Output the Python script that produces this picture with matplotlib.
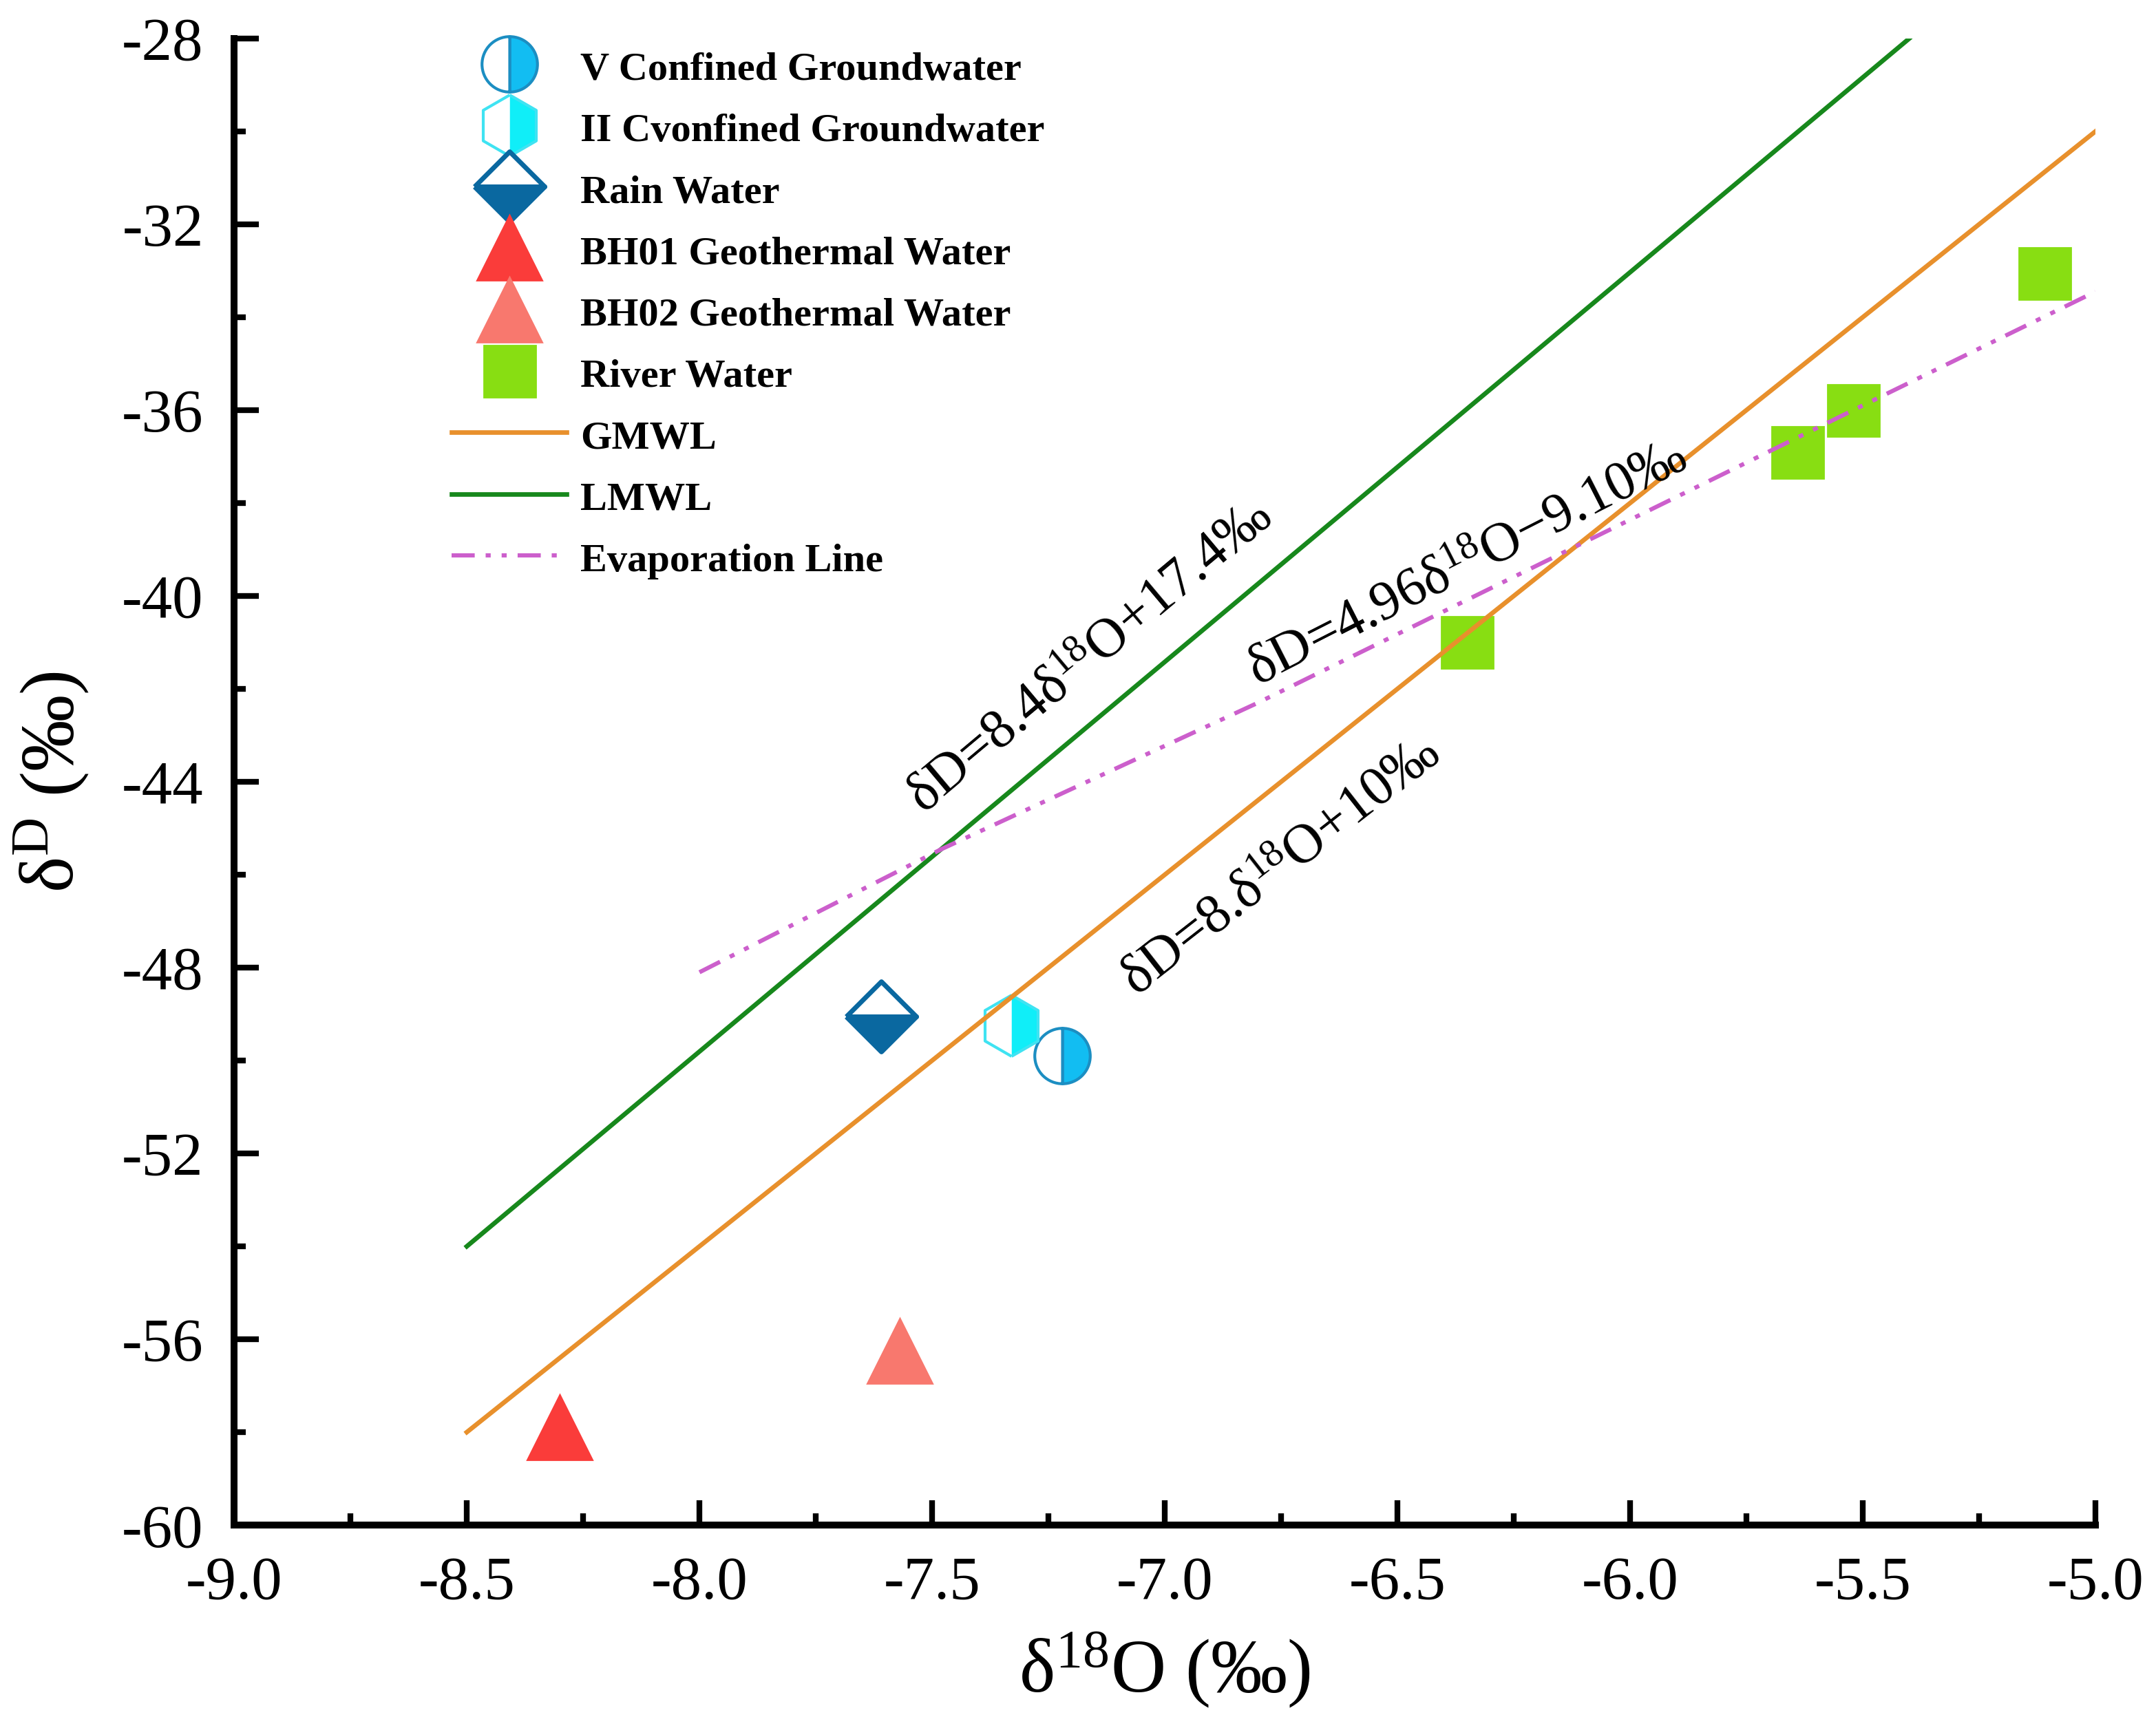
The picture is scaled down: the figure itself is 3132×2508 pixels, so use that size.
import matplotlib
matplotlib.use('Agg')
import matplotlib.pyplot as plt
from matplotlib.markers import MarkerStyle
from matplotlib.ticker import MultipleLocator, FormatStrFormatter

# Datos

v_conf_x = [-7.22]
v_conf_y = [-49.9]

ii_conf_x = [-7.33]
ii_conf_y = [-49.25]

rain_x = [-7.61]
rain_y = [-49.05]

bh01_x = [-8.30]
bh01_y = [-57.9]

bh02_x = [-7.57]
bh02_y = [-56.25]

river_x = [-6.35, -5.64, -5.52, -5.11]
river_y = [-41.0, -36.9, -36.0, -33.05]

gmwl_x = [-8.5, -5.0]
gmwl_y = [-58.0, -30.0]

lmwl_x = [-8.5, -5.40]
lmwl_y = [-54.0, -28.0]

evap_x = [-8.0, -7.48, -6.8, -6.11, -5.5, -5.0]
evap_y = [-48.1, -45.45, -42.3, -38.9, -35.9, -33.45]

labels = ['V Confined Groundwater', 'II Cvonfined Groundwater', 'Rain Water',
          'BH01 Geothermal Water', 'BH02 Geothermal Water', 'River Water',
          'GMWL', 'LMWL', 'Evaporation Line']


plt.rcParams['font.family'] = ['Liberation Serif', 'DejaVu Serif']
plt.rcParams['mathtext.fontset'] = 'custom'
plt.rcParams['mathtext.rm'] = 'Liberation Serif'
plt.rcParams['mathtext.it'] = 'Liberation Serif:italic'
plt.rcParams['axes.unicode_minus'] = False

fig = plt.figure(figsize=(15.66, 12.54), dpi=200)
ax = fig.add_axes([0.1086, 0.1164, 0.8633, 0.8613])


# Puntos

ax.plot(v_conf_x, v_conf_y, linestyle='None',
        marker=MarkerStyle('o', fillstyle='right', joinstyle='round'), markersize=29,
        markerfacecolor='#12BDF2', markerfacecoloralt='white',
        markeredgecolor='#1C8EC2', markeredgewidth=1.5, label=labels[0], zorder=2)

ax.plot(ii_conf_x, ii_conf_y, linestyle='None',
        marker=MarkerStyle('h', fillstyle='right', joinstyle='round'), markersize=32,
        markerfacecolor='#10EEF8', markerfacecoloralt='white',
        markeredgecolor='#3FE3F2', markeredgewidth=1.5, label=labels[1], zorder=2)

ax.plot(rain_x, rain_y, linestyle='None',
        marker=MarkerStyle('D', fillstyle='bottom', joinstyle='round'), markersize=26,
        markerfacecolor='#0A68A0', markerfacecoloralt='white',
        markeredgecolor='#0A68A0', markeredgewidth=2.5, label=labels[2], zorder=2)

ax.plot(bh01_x, bh01_y, linestyle='None', marker='^', markersize=34,
        color='#FA3C3A', label=labels[3], zorder=2)

ax.plot(bh02_x, bh02_y, linestyle='None', marker='^', markersize=34,
        color='#F8786E', label=labels[4], zorder=2)

ax.plot(river_x, river_y, linestyle='None', marker='s', markersize=27,
        color='#88DE12', label=labels[5], zorder=2)


# Rectas

ax.plot(gmwl_x, gmwl_y, color='#E8902C', linewidth=2.4, label=labels[6], zorder=3)

ax.plot(lmwl_x, lmwl_y, color='#17881C', linewidth=2.4, label=labels[7], zorder=3)

ax.plot(evap_x, evap_y, color='#CC5FCC', linewidth=2.2,
        linestyle=(0, (5.5, 2.6, 1.2, 2.6, 1.2, 2.6)), label=labels[8], zorder=3)


# Ecuaciones

ax.text(-7.16, -41.33, r'δD=8.4δ$^{18}$O+17.4‰', fontsize=29, rotation=40,
        rotation_mode='anchor', ha='center', va='center')

ax.text(-6.35, -39.32, r'δD=4.96δ$^{18}$O−9.10‰', fontsize=29, rotation=27,
        rotation_mode='anchor', ha='center', va='center')

ax.text(-6.75, -45.84, r'δD=8.δ$^{18}$O+10‰', fontsize=29, rotation=38,
        rotation_mode='anchor', ha='center', va='center')


# Ejes

ax.set_xlim(-9.0, -5.0)
ax.set_ylim(-60, -28)

ax.xaxis.set_major_locator(MultipleLocator(0.5))
ax.xaxis.set_minor_locator(MultipleLocator(0.25))
ax.xaxis.set_major_formatter(FormatStrFormatter('%.1f'))
ax.yaxis.set_major_locator(MultipleLocator(4))
ax.yaxis.set_minor_locator(MultipleLocator(2))

for side in ['top', 'right']:
    ax.spines[side].set_visible(False)
for side in ['left', 'bottom']:
    ax.spines[side].set_linewidth(3.6)

ax.tick_params(which='major', direction='in', length=13, width=3, labelsize=32, pad=16)
ax.tick_params(which='minor', direction='in', length=6, width=3)

ax.set_xlabel(r'δ$^{18}$O (‰)', fontsize=40, labelpad=10)
ax.set_ylabel(r'δ$^{\mathrm{D}}$ (‰)', fontsize=40, labelpad=16)

leg = ax.legend(loc='upper left', bbox_to_anchor=(0.117, 0.9937), frameon=False,
                prop={'weight': 'bold', 'size': 21}, borderpad=0, borderaxespad=0,
                handlelength=2.86, handleheight=1.0, labelspacing=0.535,
                handletextpad=0.34, numpoints=1)

plt.savefig('out.png', dpi=200)
